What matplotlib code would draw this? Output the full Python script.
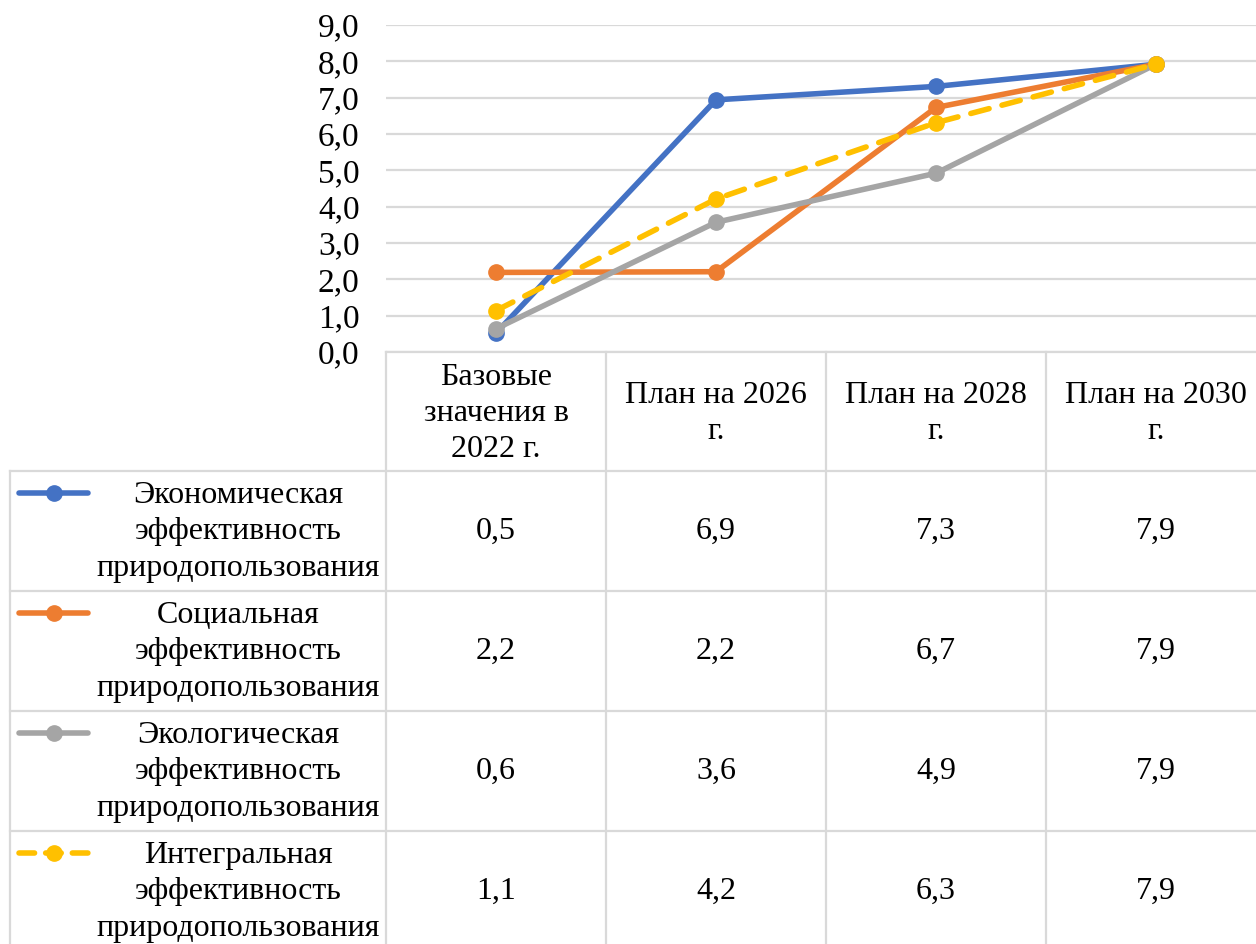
import matplotlib
matplotlib.use("Agg")
import matplotlib.pyplot as plt
from matplotlib.ticker import FuncFormatter

plt.rcParams['font.family'] = ['Liberation Serif', 'DejaVu Serif']

categories = ["Базовые\nзначения в\n2022 г.", "План на 2026\nг.", "План на 2028\nг.", "План на 2030\nг."]
series_names = ["Экономическая\nэффективность\nприродопользования",
                "Социальная\nэффективность\nприродопользования",
                "Экологическая\nэффективность\nприродопользования",
                "Интегральная\nэффективность\nприродопользования"]
econ = [0.52, 6.94, 7.31, 7.92]
social = [2.19, 2.21, 6.73, 7.92]
ecol = [0.64, 3.57, 4.92, 7.92]
integral = [1.14, 4.21, 6.31, 7.92]

colors = ["#4472C4", "#ED7D31", "#A5A5A5", "#FFC000"]
styles = ["-", "-", "-", "--"]
values = [econ, social, ecol, integral]

W, H = 1256, 944
fig = plt.figure(figsize=(W / 100, H / 100), dpi=100)
fs = 23
lsp = 1.33
grid_c = "#d9d9d9"

# layout in pixels
plot_left, col_w = 386, 220
plot_top, plot_bot = 25, 352
head_bot, row_h = 471, 120
leg_left = 10

ax = fig.add_axes([plot_left / W, (H - plot_bot) / H, 4 * col_w / W, (plot_bot - plot_top) / H])
x = list(range(len(categories)))
for v, c, ls in zip(values, colors, styles):
    kw = dict(dashes=(3.4, 2.4), dash_capstyle="round") if ls == "--" else {}
    ax.plot(x, v, ls, color=c, lw=4.0, marker="o", ms=11, solid_capstyle="round", clip_on=False, **kw)
ax.set_xlim(-0.5, len(categories) - 0.5)
ax.set_ylim(0, 9)
ax.set_yticks(range(0, 10))
ax.yaxis.set_major_formatter(FuncFormatter(lambda v, p: f"{v:.1f}".replace(".", ",")))
ax.tick_params(axis="y", length=0, labelsize=fs + 1, pad=19)
ax.set_xticks([])
ax.grid(axis="y", color=grid_c, lw=1.6)
ax.set_axisbelow(True)
for s in ax.spines.values():
    s.set_visible(False)

# data table drawn in pixel coordinates
tb = fig.add_axes([0, 0, 1, 1])
tb.set_xlim(0, W)
tb.set_ylim(H, 0)
tb.axis("off")
tb.patch.set_alpha(0)

n_rows = len(series_names)
right = plot_left + col_w * len(categories)
bottom = head_bot + row_h * n_rows
tb.plot([plot_left, right], [plot_bot, plot_bot], color=grid_c, lw=1.6)
for r in range(n_rows + 1):
    y = head_bot + r * row_h
    tb.plot([leg_left, right], [y, y], color=grid_c, lw=1.6)
tb.plot([leg_left, leg_left], [head_bot, bottom], color=grid_c, lw=1.6)
for k in range(len(categories) + 1):
    xx = plot_left + k * col_w
    tb.plot([xx, xx], [plot_bot, bottom], color=grid_c, lw=1.6)

for k, cat in enumerate(categories):
    tb.text(plot_left + (k + 0.5) * col_w, (plot_bot + head_bot) / 2 + 2, cat,
            ha="center", va="center", fontsize=fs, linespacing=lsp)

for r, (name, v, c, ls) in enumerate(zip(series_names, values, colors, styles)):
    top = head_bot + r * row_h
    yc = top + row_h / 2
    kw = dict(dashes=(2.8, 2.0), dash_capstyle="round") if ls == "--" else {}
    tb.plot([19, 53.5, 88], [top + 22] * 3, ls, color=c, lw=4.0, marker="o", ms=11,
            markevery=[1], solid_capstyle="round", **kw)
    tb.text((90 + plot_left) / 2, yc + 1, name, ha="center", va="center", fontsize=fs, linespacing=lsp)
    for k, val in enumerate(v):
        tb.text(plot_left + (k + 0.5) * col_w, yc, f"{val:.1f}".replace(".", ","),
                ha="center", va="center", fontsize=fs)

plt.savefig("out.png", dpi=100)
